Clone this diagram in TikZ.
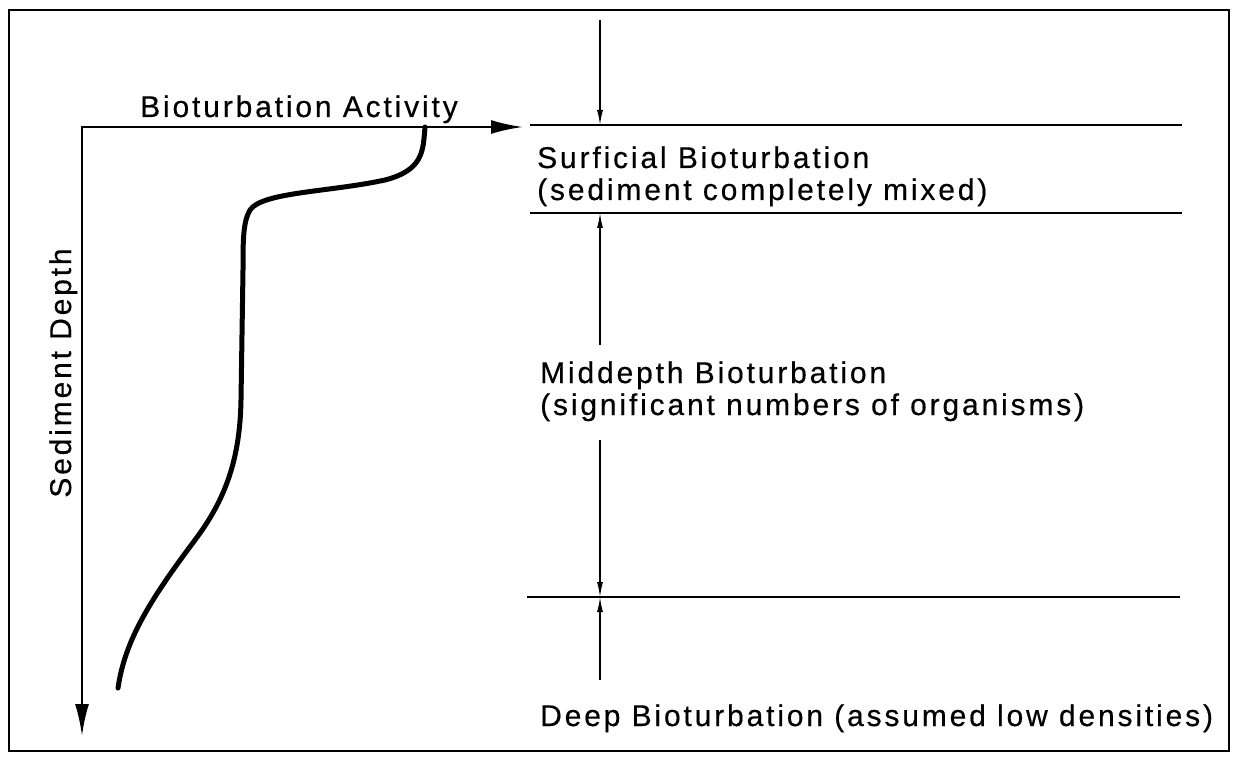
\documentclass[tikz,border=0pt]{standalone}
\usepackage{fontspec}
\newfontfamily\lblfont[LetterSpace=9.5,FakeBold=0.4]{Liberation Sans}
\usetikzlibrary{arrows.meta}
\begin{document}
\begin{tikzpicture}[x=1pt,y=-1pt,
  lbl/.style={font=\lblfont\fontsize{30}{36}\selectfont, inner sep=0pt, anchor=base west},
  dimtip/.style={-{Latex[length=15pt,width=6pt]}},
  dimline/.style={line width=1.3pt},
  level/.style={line width=1.6pt},
  curve/.style={line width=5pt, line cap=round, line join=round}]
\useasboundingbox (0,0) rectangle (1239,759);
\draw[line width=2pt] (9,10) rectangle (1229,751);
% axes
\coordinate (O) at (82,127);
\coordinate (xend) at (523,127);
\coordinate (yend) at (82,736);
\draw[line width=2.6pt, line join=miter, {Latex[length=32pt,width=14pt]}-{Latex[length=32pt,width=14pt]}] (yend) -- (O) -- (xend);
\node[lbl] (act) at (140,117) {Bioturbation Activity};
\node[lbl, rotate=90, anchor=base] (dep) at (71,373) {Sediment Depth};
% activity profile
\draw[curve] (425,127) .. controls (423,150) and (424,170) .. (385,180)
  .. controls (330,192) and (262,192) .. (250,210)
  .. controls (243,222) and (243,240) .. (243,270)
  -- (241,400)
  .. controls (240,460) and (225,500) .. (195,540)
  .. controls (150,600) and (125,640) .. (118,688);
% level lines
\coordinate (l1a) at (530,125); \coordinate (l1b) at (1182,125);
\coordinate (l2a) at (530,213); \coordinate (l2b) at (1182,213);
\coordinate (l3a) at (527,597); \coordinate (l3b) at (1180,597);
\draw[level] (l1a) -- (l1b);
\draw[level] (l2a) -- (l2b);
\draw[level] (l3a) -- (l3b);
% dimension arrows
\coordinate (d0) at (600,20);
\coordinate (t1) at (600,125);
\coordinate (t2) at (600,213);
\coordinate (m1) at (600,345);
\coordinate (m2) at (600,440);
\coordinate (t3) at (600,597);
\coordinate (b1) at (600,680);
\draw[dimline, dimtip] (d0) -- (t1);
\draw[dimline, dimtip] (m1) -- (t2);
\draw[dimline, dimtip] (m2) -- (t3);
\draw[dimline, dimtip] (b1) -- (t3);
% labels
\node[lbl] (s1) at (537,168) {Surficial Bioturbation};
\node[lbl] (s2) at (537,200) {(sediment completely mixed)};
\node[lbl] (md1) at (540,383) {Middepth Bioturbation};
\node[lbl] (md2) at (540,415) {(significant numbers of organisms)};
\node[lbl] (dp) at (540,726) {Deep Bioturbation (assumed low densities)};
\end{tikzpicture}
\end{document}
